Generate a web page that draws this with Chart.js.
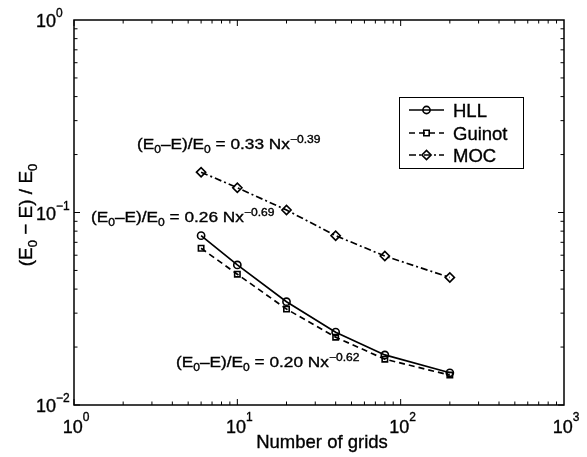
<!DOCTYPE html>
<html>
<head>
<meta charset="utf-8">
<script src="https://cdn.jsdelivr.net/npm/chart.js@4/dist/chart.umd.min.js"></script>
<style>
  html, body { margin: 0; padding: 0; background: #fff; }
  #wrap { width: 587px; height: 457px; }
</style>
</head>
<body>
<div id="wrap"><canvas id="c" width="587" height="457"></canvas></div>
<script>
// Grid counts and relative energy loss for each scheme
const grids  = [6, 10, 20, 40, 80, 200];
const hll    = [0.0758, 0.0534, 0.0344, 0.0239, 0.0182, 0.0147];
const guinot = [0.0652, 0.0478, 0.0315, 0.0225, 0.0173, 0.0143];
const moc    = [0.162, 0.1345, 0.103, 0.0758, 0.0594, 0.046];
const seriesNames = ['HLL', 'Guinot', 'MOC'];

// Decade exponents used for tick labels
const xExponents = [0, 1, 2, 3];
const yExponents = [-2, -1, 0];

// Fitted power laws: coefficient and exponent
const fitCoefs = ['0.33', '0.26', '0.20'];
const fitExps  = ['\u22120.39', '\u22120.69', '\u22120.62'];

const FONT = '"Liberation Sans", Arial, Helvetica, sans-serif';
const pts = ys => grids.map((g, i) => ({ x: g, y: ys[i] }));

const styles = [
  { dash: [], point: 'circle', r: 3.6 },
  { dash: [6, 4], point: 'rect', r: 3.8 },
  { dash: [7, 3, 2, 3], point: 'rectRot', r: 4.6 }
];

// Draw a run of text pieces (normal / sub / sup) with optional horizontal stretch
function rich(ctx, parts, x, y, align, sx) {
  sx = sx || 1;
  let w = 0;
  parts.forEach(p => { ctx.font = p.size + 'px ' + FONT; p.w = ctx.measureText(p.t).width; w += p.w; });
  ctx.save();
  ctx.translate(x, y);
  ctx.scale(sx, 1);
  let cx = align === 'center' ? -w / 2 : (align === 'right' ? -w : 0);
  ctx.textBaseline = 'alphabetic';
  ctx.textAlign = 'left';
  ctx.fillStyle = '#000';
  ctx.strokeStyle = '#000';
  ctx.lineWidth = 0.35;
  parts.forEach(p => {
    ctx.font = p.size + 'px ' + FONT;
    ctx.fillText(p.t, cx, p.dy || 0);
    ctx.strokeText(p.t, cx, p.dy || 0);
    cx += p.w;
  });
  ctx.restore();
}

function marker(ctx, kind, x, y, r) {
  ctx.beginPath();
  if (kind === 'circle') {
    ctx.arc(x, y, r, 0, Math.PI * 2);
  } else if (kind === 'rect') {
    const h = r * Math.SQRT1_2;
    ctx.rect(x - h, y - h, 2 * h, 2 * h);
  } else {
    ctx.moveTo(x - r, y); ctx.lineTo(x, y - r); ctx.lineTo(x + r, y); ctx.lineTo(x, y + r); ctx.closePath();
  }
  ctx.stroke();
}

const decor = {
  id: 'decor',
  afterDraw(chart) {
    const ctx = chart.ctx;
    const a = chart.chartArea;
    const xs = chart.scales.x, ys = chart.scales.y;
    ctx.save();
    ctx.strokeStyle = '#000';
    ctx.lineWidth = 1.5;
    ctx.setLineDash([]);
    ctx.strokeRect(a.left, a.top, a.right - a.left, a.bottom - a.top);

    // inward tick marks on all four sides
    ctx.lineWidth = 1;
    ctx.beginPath();
    for (let e = 0; e < 3; e++) {
      for (let m = 1; m <= 9; m++) {
        const v = m * Math.pow(10, e);
        const px = xs.getPixelForValue(v);
        const len = m === 1 ? 6 : 3.5;
        ctx.moveTo(px, a.bottom); ctx.lineTo(px, a.bottom - len);
        ctx.moveTo(px, a.top); ctx.lineTo(px, a.top + len);
      }
    }
    for (let e = -2; e < 0; e++) {
      for (let m = 1; m <= 9; m++) {
        const v = m * Math.pow(10, e);
        const py = ys.getPixelForValue(v);
        const len = m === 1 ? 6 : 3.5;
        ctx.moveTo(a.left, py); ctx.lineTo(a.left + len, py);
        ctx.moveTo(a.right, py); ctx.lineTo(a.right - len, py);
      }
    }
    ctx.stroke();

    // decade labels
    xExponents.forEach(e => {
      const px = xs.getPixelForValue(Math.pow(10, e));
      rich(ctx, [{ t: '10', size: 18 }, { t: String(e).replace('-', '\u2212'), size: 12, dy: -12 }], px + 2, 433, 'center');
    });
    yExponents.forEach(e => {
      const py = ys.getPixelForValue(Math.pow(10, e));
      rich(ctx, [{ t: '10', size: 18 }, { t: String(e).replace('-', '\u2212'), size: 12, dy: -10 }], 36, py + 7, 'left');
    });

    // axis titles
    rich(ctx, [{ t: 'Number of grids', size: 18.5 }], (a.left + a.right) / 2 + 3, 448, 'center');
    ctx.save();
    ctx.translate(31.5, 215);
    ctx.rotate(-Math.PI / 2);
    rich(ctx, [
      { t: '(E', size: 19 }, { t: '0', size: 13, dy: 5 },
      { t: ' \u2212 E) / E', size: 19 }, { t: '0', size: 13, dy: 5 }
    ], 0, 0, 'center');
    ctx.restore();

    // fitted-law annotations
    const annPos = [[137, 149], [91, 222], [176, 367]];
    annPos.forEach((p, i) => {
      rich(ctx, [
        { t: '(E', size: 15 }, { t: '0', size: 10.5, dy: 4.3 },
        { t: '\u2013E)/E', size: 15 }, { t: '0', size: 10.5, dy: 4.3 },
        { t: ' = ' + fitCoefs[i] + ' Nx', size: 15 }, { t: fitExps[i], size: 10.5, dy: -6.5 }
      ], p[0], p[1], 'left', 1.15);
    });

    // legend
    const lx = 399, ly = 97, lw = 124, lh = 71;
    ctx.fillStyle = '#fff';
    ctx.fillRect(lx, ly, lw, lh);
    ctx.lineWidth = 1;
    ctx.strokeStyle = '#000';
    ctx.strokeRect(lx + 0.5, ly + 0.5, lw, lh);
    const rows = [110, 133, 155];
    seriesNames.forEach((name, i) => {
      const s = styles[i];
      const y = rows[i];
      ctx.lineWidth = 1.7;
      ctx.setLineDash(s.dash);
      ctx.beginPath();
      ctx.moveTo(409, y); ctx.lineTo(444, y);
      ctx.stroke();
      ctx.setLineDash([]);
      ctx.lineWidth = 1.6;
      marker(ctx, s.point, 426.5, y, s.r);
      rich(ctx, [{ t: name, size: 18.5 }], 453, y + 7, 'left');
    });
    ctx.restore();
  }
};

const series = [hll, guinot, moc];
new Chart(document.getElementById('c'), {
  type: 'line',
  data: {
    datasets: series.map((ys, i) => ({
      label: seriesNames[i],
      data: pts(ys),
      borderColor: '#000',
      borderWidth: 1.7,
      borderDash: styles[i].dash,
      pointStyle: styles[i].point,
      pointRadius: styles[i].r,
      pointBorderWidth: 1.6,
      pointBorderColor: '#000',
      pointBackgroundColor: 'rgba(0,0,0,0)',
      tension: 0,
      fill: false
    }))
  },
  options: {
    responsive: false,
    animation: false,
    layout: { padding: { left: 74, right: 23, top: 20, bottom: 52 } },
    scales: {
      x: { type: 'logarithmic', min: 1, max: 1000, display: false },
      y: { type: 'logarithmic', min: 0.01, max: 1, display: false }
    },
    plugins: { legend: { display: false }, tooltip: { enabled: false } }
  },
  plugins: [decor]
});
</script>
</body>
</html>
